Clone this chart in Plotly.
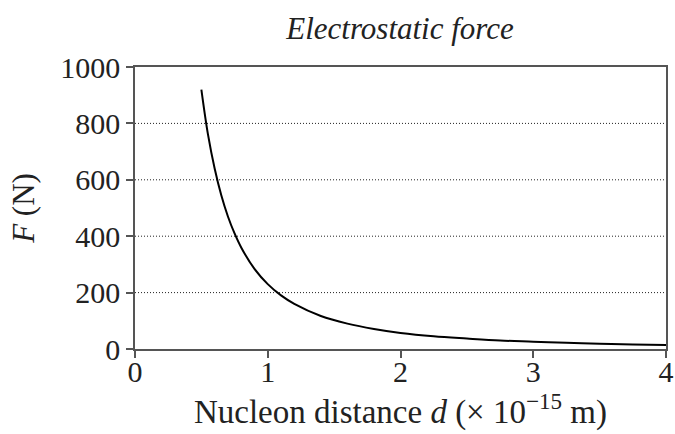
import plotly.graph_objects as go

# Data
distance = [0.5, 0.55, 0.6, 0.65, 0.7, 0.75, 0.8, 0.9, 1.0, 1.1, 1.2, 1.4, 1.6, 1.8, 2.0, 2.25, 2.5, 2.75, 3.0, 3.25, 3.5, 3.75, 4.0]
force = [920, 760, 640, 545, 470, 410, 360, 284, 230, 190, 160, 117, 90, 71, 57, 45, 37, 30, 26, 22, 19, 16, 14]

x_ticks = [0, 1, 2, 3, 4]
y_ticks = [0, 200, 400, 600, 800, 1000]

font_family = "Liberation Serif"
txt = "#222"

fig = go.Figure()
fig.add_trace(go.Scatter(x=distance, y=force, mode="lines",
                         line=dict(color="black", width=2, shape="spline"),
                         showlegend=False, hoverinfo="skip"))

# dotted gridlines at inner y ticks
for yv in y_ticks[1:-1]:
    fig.add_shape(type="line", xref="x", yref="y", x0=x_ticks[0], x1=x_ticks[-1], y0=yv, y1=yv,
                  line=dict(color="#222", width=1, dash="1px,2px"), layer="below")

fig.update_layout(
    width=675, height=434,
    margin=dict(l=135, r=9, t=67, b=85, autoexpand=False),
    paper_bgcolor="white", plot_bgcolor="white",
    font=dict(family=font_family, color=txt, size=30),
    title=dict(text="<i>Electrostatic force</i>", x=(283 + 517) / 2 / 675, xanchor="center",
               xref="container", yref="container", y=1 - 28 / 434, yanchor="middle",
               font=dict(size=31, family=font_family, color=txt)),
    xaxis=dict(range=[0, 4], tickvals=x_ticks, ticks="outside", ticklen=7, tickwidth=1.5,
               tickcolor="#555", showline=True, linecolor="#555", linewidth=1.5, mirror=True,
               showgrid=False, zeroline=False, automargin=False, ticklabelstandoff=-12,
               tickfont=dict(size=30, family=font_family, color=txt),
               title=dict(text="Nucleon distance <i>d</i> (× 10<sup>−15</sup> m)",
                          font=dict(size=33, family=font_family, color=txt), standoff=6)),
    yaxis=dict(range=[0, 1000], tickvals=y_ticks, ticks="outside", ticklen=7, tickwidth=1.5,
               tickcolor="#555", showline=True, linecolor="#555", linewidth=1.5, mirror=True,
               showgrid=False, zeroline=False, automargin=False,
               tickfont=dict(size=30, family=font_family, color=txt),
               title=dict(text="<i>F</i> (N)",
                          font=dict(size=31, family=font_family, color=txt), standoff=16)),
)

fig.write_html("out.html")
